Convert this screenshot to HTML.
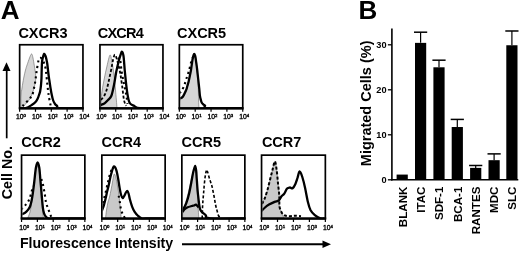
<!DOCTYPE html>
<html><head><meta charset="utf-8"><style>
html,body{margin:0;padding:0;background:#fff;width:520px;height:253px;overflow:hidden}
svg{display:block;will-change:transform}
text{font-family:"Liberation Sans", sans-serif;fill:#000}
</style></head><body>
<svg width="520" height="253" viewBox="0 0 520 253">
<clipPath id="cCXCR3"><rect x="20.5" y="45.6" width="61.6" height="63.4"/></clipPath>
<g clip-path="url(#cCXCR3)">
<path d="M20.8,108.2 C20.8,106.0 20.8,98.4 21.0,95.0 C21.2,91.6 21.6,90.8 22.0,88.0 C22.4,85.2 23.1,81.0 23.7,78.0 C24.3,75.0 24.9,72.2 25.5,70.0 C26.1,67.8 26.4,66.9 27.1,64.9 C27.8,62.9 28.8,59.8 29.5,58.0 C30.2,56.2 31.0,53.9 31.6,53.9 C32.2,53.9 32.6,56.2 33.0,58.0 C33.4,59.8 33.8,62.6 34.2,64.9 C34.6,67.2 35.0,69.8 35.3,72.0 C35.6,74.2 35.8,76.0 35.8,78.0 C35.8,80.0 35.4,82.0 35.0,84.0 C34.6,86.0 34.1,88.1 33.5,90.0 C32.9,91.9 32.2,93.8 31.5,95.5 C30.8,97.2 29.9,98.7 29.0,100.0 C28.1,101.3 27.2,102.1 26.0,103.5 C24.8,104.9 22.7,107.4 22.0,108.2 Z" fill="#d6d6d6" stroke="#666" stroke-width="0.6"/>
<path d="M22.5,106.0 C22.8,105.7 23.5,105.0 24.5,104.0 C25.5,103.0 27.3,101.3 28.4,100.1 C29.5,98.9 30.3,97.9 31.0,97.0 C31.7,96.1 31.9,96.4 32.4,94.9 C32.9,93.4 33.6,90.0 34.0,88.0 C34.4,86.0 34.7,85.2 35.0,83.2 C35.3,81.2 35.7,78.2 36.0,76.0 C36.3,73.8 36.4,72.6 36.8,70.1 C37.2,67.6 37.9,63.0 38.4,61.0 C38.9,59.0 39.4,58.3 40.0,58.0 C40.6,57.7 41.3,58.2 42.0,59.0 C42.7,59.8 43.4,61.6 44.0,63.0 C44.6,64.4 45.0,65.5 45.4,67.5 C45.8,69.5 46.1,72.4 46.4,75.0 C46.7,77.6 46.9,80.7 47.2,83.2 C47.5,85.7 47.7,87.8 48.0,90.0 C48.3,92.2 48.4,93.6 48.8,96.2 C49.2,98.8 50.3,103.9 50.6,105.4" fill="none" stroke="#000" stroke-width="2.1" stroke-dasharray="2.1,3.2"/>
<path d="M20.0,108.2 C21.0,108.2 23.7,108.8 25.8,108.2 C27.9,107.6 30.8,105.6 32.4,104.6 C34.0,103.6 34.6,103.0 35.5,102.0 C36.4,101.0 37.0,100.0 37.6,98.8 C38.2,97.6 38.6,96.3 39.0,95.0 C39.4,93.7 39.9,92.7 40.2,91.0 C40.5,89.3 40.8,87.2 41.0,85.0 C41.2,82.8 41.4,80.5 41.5,78.0 C41.6,75.5 41.6,72.6 41.7,70.0 C41.8,67.4 41.8,64.5 42.0,62.3 C42.2,60.1 42.6,58.4 43.0,57.0 C43.4,55.6 43.7,54.1 44.1,53.9 C44.5,53.7 45.1,55.0 45.5,56.0 C45.9,57.0 46.2,58.4 46.5,59.7 C46.8,61.0 47.0,62.0 47.3,64.0 C47.6,66.0 47.9,69.3 48.2,72.0 C48.5,74.7 48.9,77.3 49.3,80.0 C49.7,82.7 50.1,85.5 50.5,88.0 C50.9,90.5 51.3,92.9 51.8,95.0 C52.2,97.1 52.7,99.0 53.2,100.5 C53.7,102.0 54.4,103.1 55.0,104.0 C55.6,104.9 56.2,105.1 57.0,105.8 C57.8,106.5 55.7,107.8 60.0,108.2 C64.3,108.6 79.2,108.2 83.0,108.2" fill="none" stroke="#000" stroke-width="2.3" stroke-linejoin="round"/>
</g>
<rect x="19.65" y="44.75" width="63.30" height="63.80" fill="none" stroke="#000" stroke-width="1.7"/>
<rect x="18.80" y="107.10" width="65.00" height="2.3" fill="#000"/>
<line x1="19.65" y1="108.9" x2="19.65" y2="111.8" stroke="#000" stroke-width="1.2"/>
<text x="16.05" y="118.8" font-size="6.8" stroke="#000" stroke-width="0.35">10<tspan font-size="4.3" dy="-2.0">0</tspan></text>
<line x1="35.48" y1="108.9" x2="35.48" y2="111.8" stroke="#000" stroke-width="1.2"/>
<text x="31.88" y="118.8" font-size="6.8" stroke="#000" stroke-width="0.35">10<tspan font-size="4.3" dy="-2.0">1</tspan></text>
<line x1="51.30" y1="108.9" x2="51.30" y2="111.8" stroke="#000" stroke-width="1.2"/>
<text x="47.70" y="118.8" font-size="6.8" stroke="#000" stroke-width="0.35">10<tspan font-size="4.3" dy="-2.0">2</tspan></text>
<line x1="67.12" y1="108.9" x2="67.12" y2="111.8" stroke="#000" stroke-width="1.2"/>
<text x="63.52" y="118.8" font-size="6.8" stroke="#000" stroke-width="0.35">10<tspan font-size="4.3" dy="-2.0">3</tspan></text>
<line x1="82.95" y1="108.9" x2="82.95" y2="111.8" stroke="#000" stroke-width="1.2"/>
<text x="79.35" y="118.8" font-size="6.8" stroke="#000" stroke-width="0.35">10<tspan font-size="4.3" dy="-2.0">4</tspan></text>
<text x="18.4" y="38.3" font-size="14.5" font-weight="bold">CXCR3</text>
<clipPath id="cCXCR4"><rect x="100.8" y="45.6" width="61.3" height="63.4"/></clipPath>
<g clip-path="url(#cCXCR4)">
<path d="M101.0,108.2 C101.1,106.0 101.0,99.7 101.5,95.0 C102.0,90.3 103.1,84.8 104.0,80.0 C104.9,75.2 106.0,70.2 107.0,66.0 C108.0,61.8 109.2,55.7 110.0,55.0 C110.8,54.3 111.3,58.7 112.0,62.0 C112.7,65.3 113.4,70.3 114.0,75.0 C114.6,79.7 115.0,84.5 115.5,90.0 C116.0,95.5 116.8,105.2 117.0,108.2 Z" fill="#d6d6d6" stroke="#666" stroke-width="0.6"/>
<path d="M101.0,100.0 C101.8,98.7 104.4,96.7 106.0,92.0 C107.6,87.3 109.5,77.3 110.7,72.0 C111.9,66.7 112.3,62.9 113.0,60.0 C113.7,57.1 114.2,54.5 115.0,54.7 C115.8,55.0 116.7,58.6 117.5,61.5 C118.3,64.4 119.2,68.1 120.0,72.0 C120.8,75.9 121.3,80.3 122.0,85.0 C122.7,89.7 123.3,96.5 124.0,100.0 C124.7,103.5 125.7,105.0 126.0,106.0" fill="none" stroke="#000" stroke-width="1.8" stroke-dasharray="3,2"/>
<path d="M118.0,60.0 C118.3,59.8 119.4,57.0 120.0,59.0 C120.6,61.0 121.0,67.8 121.7,72.0 C122.4,76.2 123.2,80.0 124.0,84.0 C124.8,88.0 125.8,92.4 126.4,95.7 C127.0,99.0 127.3,102.6 127.5,104.0" fill="none" stroke="#000" stroke-width="2.1" stroke-dasharray="2.1,3.2"/>
<path d="M100.5,105.0 C101.1,104.8 103.0,104.4 104.3,103.6 C105.5,102.8 106.8,101.3 108.0,100.0 C109.2,98.7 110.4,98.2 111.4,95.7 C112.4,93.2 113.2,89.0 114.0,85.0 C114.8,81.0 115.5,75.8 116.2,72.0 C117.0,68.2 117.8,64.8 118.5,62.0 C119.2,59.2 119.9,56.7 120.5,55.0 C121.1,53.3 121.5,51.5 122.0,51.7 C122.5,51.9 123.0,52.6 123.5,56.0 C124.0,59.4 124.3,65.9 124.9,72.0 C125.5,78.1 126.4,87.4 127.2,92.5 C128.0,97.6 128.4,100.5 129.6,102.8 C130.8,105.0 132.6,105.1 134.3,106.0 C136.0,106.9 135.2,107.8 140.0,108.2 C144.8,108.6 159.2,108.2 163.0,108.2" fill="none" stroke="#000" stroke-width="2.3" stroke-linejoin="round"/>
</g>
<rect x="99.95" y="44.75" width="63.00" height="63.80" fill="none" stroke="#000" stroke-width="1.7"/>
<rect x="99.10" y="107.10" width="64.70" height="2.3" fill="#000"/>
<line x1="99.95" y1="108.9" x2="99.95" y2="111.8" stroke="#000" stroke-width="1.2"/>
<text x="96.35" y="118.8" font-size="6.8" stroke="#000" stroke-width="0.35">10<tspan font-size="4.3" dy="-2.0">0</tspan></text>
<line x1="115.70" y1="108.9" x2="115.70" y2="111.8" stroke="#000" stroke-width="1.2"/>
<text x="112.10" y="118.8" font-size="6.8" stroke="#000" stroke-width="0.35">10<tspan font-size="4.3" dy="-2.0">1</tspan></text>
<line x1="131.45" y1="108.9" x2="131.45" y2="111.8" stroke="#000" stroke-width="1.2"/>
<text x="127.85" y="118.8" font-size="6.8" stroke="#000" stroke-width="0.35">10<tspan font-size="4.3" dy="-2.0">2</tspan></text>
<line x1="147.20" y1="108.9" x2="147.20" y2="111.8" stroke="#000" stroke-width="1.2"/>
<text x="143.60" y="118.8" font-size="6.8" stroke="#000" stroke-width="0.35">10<tspan font-size="4.3" dy="-2.0">3</tspan></text>
<line x1="162.95" y1="108.9" x2="162.95" y2="111.8" stroke="#000" stroke-width="1.2"/>
<text x="159.35" y="118.8" font-size="6.8" stroke="#000" stroke-width="0.35">10<tspan font-size="4.3" dy="-2.0">4</tspan></text>
<text x="97.8" y="38.3" font-size="14.5" font-weight="bold" letter-spacing="-0.8">CXCR4</text>
<clipPath id="cCXCR5"><rect x="180.2" y="45.6" width="61.7" height="63.4"/></clipPath>
<g clip-path="url(#cCXCR5)">
<path d="M179.5,108.2 C179.6,106.8 179.4,101.8 180.0,100.0 C180.6,98.2 181.9,99.1 183.0,97.5 C184.1,95.9 185.4,93.1 186.3,90.5 C187.2,87.9 188.0,84.9 188.7,82.0 C189.4,79.1 190.0,76.0 190.5,73.0 C191.0,70.0 191.4,66.5 191.8,64.0 C192.2,61.5 192.6,59.3 193.0,58.0 C193.4,56.7 193.8,56.0 194.2,56.0 C194.6,56.0 195.0,56.3 195.4,58.0 C195.8,59.7 196.2,63.0 196.5,66.0 C196.8,69.0 197.2,72.7 197.5,76.0 C197.8,79.3 198.0,82.0 198.2,86.0 C198.4,90.0 198.5,96.3 198.6,100.0 C198.7,103.7 198.9,106.8 199.0,108.2 Z" fill="#d6d6d6" stroke="#666" stroke-width="0.6"/>
<path d="M179.5,93.0 C179.8,92.7 180.8,92.1 181.6,90.9 C182.3,89.7 183.2,88.0 184.0,86.0 C184.8,84.0 185.5,81.4 186.3,79.0 C187.1,76.6 187.9,74.6 188.7,71.8 C189.5,69.0 190.4,64.8 191.1,62.3 C191.8,59.8 192.7,57.9 193.0,57.0" fill="none" stroke="#000" stroke-width="2.1" stroke-dasharray="2.1,3.2"/>
<path d="M180.0,98.5 C180.5,98.2 182.0,97.8 182.8,96.8 C183.6,95.8 184.4,93.7 185.0,92.5 C185.6,91.3 185.9,90.9 186.3,89.7 C186.7,88.5 187.1,86.9 187.5,85.5 C187.9,84.1 188.3,83.0 188.7,81.3 C189.1,79.5 189.6,77.0 190.0,75.0 C190.4,73.0 190.8,71.4 191.1,69.4 C191.4,67.4 191.7,64.9 192.0,63.0 C192.3,61.1 192.5,59.3 192.8,58.0 C193.1,56.7 193.4,55.7 193.6,55.0 C193.8,54.3 194.0,54.0 194.2,54.0 C194.4,54.0 194.7,54.3 194.9,55.0 C195.1,55.7 195.4,56.7 195.6,58.0 C195.8,59.3 196.0,61.0 196.3,63.0 C196.6,65.0 196.9,67.3 197.2,70.0 C197.5,72.7 197.9,76.0 198.2,79.0 C198.5,82.0 198.9,85.2 199.2,88.0 C199.5,90.8 199.6,93.5 199.9,95.6 C200.2,97.7 200.7,99.3 201.0,100.5 C201.3,101.7 201.4,102.1 201.8,102.8 C202.2,103.5 203.0,104.1 203.5,104.6 C204.0,105.1 204.2,105.0 205.0,105.6 C205.8,106.2 201.7,107.8 208.0,108.2 C214.3,108.6 237.2,108.2 243.0,108.2" fill="none" stroke="#000" stroke-width="2.3" stroke-linejoin="round"/>
</g>
<rect x="179.35" y="44.75" width="63.40" height="63.80" fill="none" stroke="#000" stroke-width="1.7"/>
<rect x="178.50" y="107.10" width="65.10" height="2.3" fill="#000"/>
<line x1="179.35" y1="108.9" x2="179.35" y2="111.8" stroke="#000" stroke-width="1.2"/>
<text x="175.75" y="118.8" font-size="6.8" stroke="#000" stroke-width="0.35">10<tspan font-size="4.3" dy="-2.0">0</tspan></text>
<line x1="195.20" y1="108.9" x2="195.20" y2="111.8" stroke="#000" stroke-width="1.2"/>
<text x="191.60" y="118.8" font-size="6.8" stroke="#000" stroke-width="0.35">10<tspan font-size="4.3" dy="-2.0">1</tspan></text>
<line x1="211.05" y1="108.9" x2="211.05" y2="111.8" stroke="#000" stroke-width="1.2"/>
<text x="207.45" y="118.8" font-size="6.8" stroke="#000" stroke-width="0.35">10<tspan font-size="4.3" dy="-2.0">2</tspan></text>
<line x1="226.90" y1="108.9" x2="226.90" y2="111.8" stroke="#000" stroke-width="1.2"/>
<text x="223.30" y="118.8" font-size="6.8" stroke="#000" stroke-width="0.35">10<tspan font-size="4.3" dy="-2.0">3</tspan></text>
<line x1="242.75" y1="108.9" x2="242.75" y2="111.8" stroke="#000" stroke-width="1.2"/>
<text x="239.15" y="118.8" font-size="6.8" stroke="#000" stroke-width="0.35">10<tspan font-size="4.3" dy="-2.0">4</tspan></text>
<text x="177.0" y="38.3" font-size="14.5" font-weight="bold">CXCR5</text>
<clipPath id="cCCR2"><rect x="22.4" y="156.0" width="61.6" height="63.2"/></clipPath>
<g clip-path="url(#cCCR2)">
<path d="M27.5,218.4 C27.9,217.3 29.2,215.1 30.0,212.0 C30.8,208.9 31.3,204.7 32.0,200.0 C32.7,195.3 33.4,188.7 34.0,184.0 C34.6,179.3 34.9,175.0 35.5,172.0 C36.1,169.0 36.9,166.0 37.5,166.0 C38.1,166.0 38.7,169.0 39.2,172.0 C39.7,175.0 39.9,179.7 40.3,184.0 C40.6,188.3 41.0,194.0 41.3,198.0 C41.6,202.0 41.9,204.6 42.3,208.0 C42.7,211.4 43.3,216.7 43.5,218.4 Z" fill="#c9c9c9" stroke="#666" stroke-width="0.6"/>
<path d="M21.2,209.4 C21.8,208.8 23.7,207.1 24.9,205.7 C26.1,204.3 27.6,202.8 28.6,200.8 C29.6,198.9 30.3,196.5 31.0,194.0 C31.7,191.5 32.7,187.3 33.0,186.0" fill="none" stroke="#000" stroke-width="2.1" stroke-dasharray="2.1,3.2"/>
<path d="M41.3,179.0 C41.6,180.0 42.4,182.2 43.0,184.8 C43.6,187.4 44.3,191.6 44.8,194.5 C45.3,197.4 45.5,200.3 46.0,202.5 C46.5,204.7 47.1,205.9 47.8,207.8 C48.5,209.7 49.4,212.2 50.1,214.0 C50.8,215.8 51.7,217.7 52.0,218.4" fill="none" stroke="#000" stroke-width="2.1" stroke-dasharray="2.1,3.2"/>
<path d="M21.5,214.6 C22.3,214.1 24.7,213.1 26.1,211.8 C27.5,210.5 28.8,209.4 29.8,207.0 C30.8,204.6 31.5,201.3 32.2,197.2 C32.9,193.1 33.6,187.4 34.2,182.5 C34.8,177.6 35.3,171.2 35.9,167.8 C36.5,164.5 37.0,162.4 37.6,162.4 C38.2,162.4 38.8,164.9 39.3,167.8 C39.8,170.7 40.0,175.8 40.4,180.0 C40.8,184.2 41.2,188.9 41.5,192.7 C41.8,196.5 42.1,200.0 42.4,203.0 C42.7,206.0 42.9,208.4 43.3,210.5 C43.7,212.6 44.2,214.2 45.0,215.5 C45.8,216.8 46.3,217.9 48.0,218.4 C49.7,218.9 48.8,218.4 55.0,218.4 C61.2,218.4 80.0,218.4 85.0,218.4" fill="none" stroke="#000" stroke-width="2.3" stroke-linejoin="round"/>
</g>
<rect x="21.55" y="155.15" width="63.30" height="63.60" fill="none" stroke="#000" stroke-width="1.7"/>
<rect x="20.70" y="217.30" width="65.00" height="2.3" fill="#000"/>
<line x1="21.55" y1="219.1" x2="21.55" y2="222.0" stroke="#000" stroke-width="1.2"/>
<text x="19.15" y="229.9" font-size="6.8" stroke="#000" stroke-width="0.35">10<tspan font-size="4.3" dy="-2.0">0</tspan></text>
<line x1="37.38" y1="219.1" x2="37.38" y2="222.0" stroke="#000" stroke-width="1.2"/>
<text x="34.98" y="229.9" font-size="6.8" stroke="#000" stroke-width="0.35">10<tspan font-size="4.3" dy="-2.0">1</tspan></text>
<line x1="53.20" y1="219.1" x2="53.20" y2="222.0" stroke="#000" stroke-width="1.2"/>
<text x="50.80" y="229.9" font-size="6.8" stroke="#000" stroke-width="0.35">10<tspan font-size="4.3" dy="-2.0">2</tspan></text>
<line x1="69.03" y1="219.1" x2="69.03" y2="222.0" stroke="#000" stroke-width="1.2"/>
<text x="66.62" y="229.9" font-size="6.8" stroke="#000" stroke-width="0.35">10<tspan font-size="4.3" dy="-2.0">3</tspan></text>
<line x1="84.85" y1="219.1" x2="84.85" y2="222.0" stroke="#000" stroke-width="1.2"/>
<text x="82.45" y="229.9" font-size="6.8" stroke="#000" stroke-width="0.35">10<tspan font-size="4.3" dy="-2.0">4</tspan></text>
<text x="21.3" y="146.6" font-size="14.5" font-weight="bold">CCR2</text>
<clipPath id="cCCR4"><rect x="102.7" y="156.0" width="61.6" height="63.2"/></clipPath>
<g clip-path="url(#cCCR4)">
<path d="M105.5,218.4 C105.7,217.0 106.1,212.7 106.5,210.0 C106.9,207.3 107.5,204.2 108.0,202.0 C108.5,199.8 109.0,199.0 109.5,197.0 C110.0,195.0 110.5,192.5 111.0,190.0 C111.5,187.5 112.1,184.3 112.5,182.0 C112.9,179.7 113.2,177.3 113.5,176.0 C113.8,174.7 114.1,173.7 114.5,174.0 C114.9,174.3 115.5,176.0 116.0,178.0 C116.5,180.0 117.0,183.3 117.5,186.0 C118.0,188.7 118.4,191.2 118.8,194.0 C119.2,196.8 119.5,200.3 119.8,203.0 C120.1,205.7 120.3,207.4 120.5,210.0 C120.7,212.6 121.1,217.0 121.2,218.4 Z" fill="#c9c9c9" stroke="#666" stroke-width="0.6"/>
<path d="M101.5,208.0 C101.8,207.0 102.3,204.5 103.0,202.0 C103.7,199.5 104.7,196.3 105.5,193.0 C106.3,189.7 107.2,185.2 108.0,182.0 C108.8,178.8 109.3,176.2 110.0,174.0 C110.7,171.8 111.7,169.8 112.0,169.0" fill="none" stroke="#000" stroke-width="2.1" stroke-dasharray="2.1,3.2"/>
<path d="M118.7,195.8 C118.9,197.0 119.6,200.6 120.0,203.0 C120.4,205.4 120.6,208.1 121.1,210.0 C121.6,211.9 122.3,213.1 123.0,214.5 C123.7,215.9 124.7,217.8 125.0,218.4" fill="none" stroke="#000" stroke-width="2.1" stroke-dasharray="2.1,3.2"/>
<path d="M101.8,211.0 C102.1,210.2 103.1,207.9 103.7,205.9 C104.3,203.9 104.9,201.4 105.5,199.0 C106.1,196.6 106.6,193.9 107.1,191.6 C107.6,189.3 108.2,187.7 108.7,185.3 C109.2,182.9 109.8,179.7 110.3,177.4 C110.8,175.2 111.3,173.4 111.8,171.8 C112.2,170.2 112.6,168.9 113.0,168.0 C113.4,167.1 113.6,166.4 114.0,166.3 C114.4,166.2 114.9,166.7 115.3,167.5 C115.7,168.3 116.1,169.2 116.6,171.1 C117.1,173.0 117.7,176.1 118.2,179.0 C118.7,181.9 119.2,185.7 119.7,188.4 C120.2,191.1 120.6,193.4 121.1,195.0 C121.6,196.6 122.1,198.1 122.7,198.2 C123.3,198.3 124.0,196.5 124.5,195.5 C125.0,194.5 125.5,193.0 126.0,192.3 C126.5,191.6 127.0,190.8 127.4,191.1 C127.9,191.4 128.3,192.7 128.7,194.0 C129.1,195.3 129.2,196.8 129.8,199.0 C130.4,201.2 131.4,204.8 132.2,206.9 C133.0,209.0 133.6,210.2 134.5,211.6 C135.4,213.0 136.5,214.4 137.7,215.5 C138.9,216.6 140.2,217.9 141.6,218.4 C143.0,218.9 142.1,218.4 146.0,218.4 C149.9,218.4 161.8,218.4 165.0,218.4" fill="none" stroke="#000" stroke-width="2.3" stroke-linejoin="round"/>
</g>
<rect x="101.85" y="155.15" width="63.30" height="63.60" fill="none" stroke="#000" stroke-width="1.7"/>
<rect x="101.00" y="217.30" width="65.00" height="2.3" fill="#000"/>
<line x1="101.85" y1="219.1" x2="101.85" y2="222.0" stroke="#000" stroke-width="1.2"/>
<text x="99.45" y="229.9" font-size="6.8" stroke="#000" stroke-width="0.35">10<tspan font-size="4.3" dy="-2.0">0</tspan></text>
<line x1="117.67" y1="219.1" x2="117.67" y2="222.0" stroke="#000" stroke-width="1.2"/>
<text x="115.27" y="229.9" font-size="6.8" stroke="#000" stroke-width="0.35">10<tspan font-size="4.3" dy="-2.0">1</tspan></text>
<line x1="133.50" y1="219.1" x2="133.50" y2="222.0" stroke="#000" stroke-width="1.2"/>
<text x="131.10" y="229.9" font-size="6.8" stroke="#000" stroke-width="0.35">10<tspan font-size="4.3" dy="-2.0">2</tspan></text>
<line x1="149.32" y1="219.1" x2="149.32" y2="222.0" stroke="#000" stroke-width="1.2"/>
<text x="146.92" y="229.9" font-size="6.8" stroke="#000" stroke-width="0.35">10<tspan font-size="4.3" dy="-2.0">3</tspan></text>
<line x1="165.15" y1="219.1" x2="165.15" y2="222.0" stroke="#000" stroke-width="1.2"/>
<text x="162.75" y="229.9" font-size="6.8" stroke="#000" stroke-width="0.35">10<tspan font-size="4.3" dy="-2.0">4</tspan></text>
<text x="101.6" y="146.6" font-size="14.5" font-weight="bold">CCR4</text>
<clipPath id="cCCR5"><rect x="182.7" y="156.0" width="61.3" height="63.2"/></clipPath>
<g clip-path="url(#cCCR5)">
<path d="M182.5,218.4 C182.6,217.0 182.5,212.6 183.0,210.0 C183.5,207.4 184.7,205.7 185.5,203.0 C186.3,200.3 187.2,197.3 188.0,194.0 C188.8,190.7 189.8,186.3 190.5,183.0 C191.2,179.7 191.8,176.4 192.5,174.0 C193.2,171.6 194.2,168.2 194.8,168.5 C195.4,168.8 195.9,172.8 196.3,176.0 C196.7,179.2 196.8,184.0 197.0,188.0 C197.2,192.0 197.5,194.9 197.8,200.0 C198.1,205.1 198.6,215.3 198.8,218.4 Z" fill="#c9c9c9" stroke="#666" stroke-width="0.6"/>
<path d="M202.2,218.4 C202.2,216.7 202.4,211.1 202.5,208.0 C202.6,204.9 202.8,202.5 203.0,200.0 C203.2,197.5 203.4,195.2 203.6,193.0 C203.8,190.8 203.9,189.2 204.1,186.7 C204.3,184.2 204.7,180.4 205.0,178.0 C205.3,175.6 205.7,173.4 206.0,172.0 C206.3,170.6 206.4,169.8 206.7,169.8 C207.0,169.8 207.2,170.8 207.6,172.0 C208.0,173.2 208.5,175.3 209.0,177.0 C209.5,178.7 210.1,180.4 210.6,182.0 C211.1,183.6 211.6,184.5 212.1,186.7 C212.6,188.9 213.2,192.1 213.8,195.0 C214.4,197.9 214.9,201.4 215.4,204.0 C215.9,206.6 216.4,208.5 217.0,210.5 C217.6,212.5 218.0,214.7 218.7,216.0 C219.4,217.3 220.6,218.0 221.0,218.4" fill="none" stroke="#000" stroke-width="1.6" stroke-dasharray="3,2"/>
<path d="M182.5,212.0 C182.9,211.5 184.1,209.8 185.0,209.0 C185.9,208.2 186.6,207.8 187.7,207.3 C188.8,206.8 190.8,206.3 191.8,206.0 C192.9,205.7 193.3,205.7 194.0,205.5 C194.7,205.3 195.2,204.3 196.0,204.6 C196.8,204.9 198.2,206.9 198.7,207.3" fill="none" stroke="#000" stroke-width="2.3" stroke-linejoin="round"/>
<path d="M182.0,210.6 C182.2,210.3 182.8,209.9 183.5,208.7 C184.2,207.5 185.4,205.7 186.3,203.2 C187.2,200.7 188.2,197.4 189.1,193.5 C190.0,189.6 191.1,183.4 191.8,179.7 C192.5,175.9 192.9,173.3 193.5,171.0 C194.1,168.7 194.8,165.8 195.2,165.8 C195.6,165.8 195.9,168.7 196.2,171.0 C196.5,173.3 196.5,175.9 196.8,179.7 C197.1,183.4 197.4,188.9 197.9,193.5 C198.4,198.1 199.0,204.3 199.6,207.3 C200.2,210.3 200.5,210.2 201.5,211.5 C202.5,212.8 204.3,213.9 205.7,215.1 C207.1,216.2 203.4,217.8 210.0,218.4 C216.6,219.0 239.2,218.4 245.0,218.4" fill="none" stroke="#000" stroke-width="2.3" stroke-linejoin="round"/>
</g>
<rect x="181.85" y="155.15" width="63.00" height="63.60" fill="none" stroke="#000" stroke-width="1.7"/>
<rect x="181.00" y="217.30" width="64.70" height="2.3" fill="#000"/>
<line x1="181.85" y1="219.1" x2="181.85" y2="222.0" stroke="#000" stroke-width="1.2"/>
<text x="179.45" y="229.9" font-size="6.8" stroke="#000" stroke-width="0.35">10<tspan font-size="4.3" dy="-2.0">0</tspan></text>
<line x1="197.60" y1="219.1" x2="197.60" y2="222.0" stroke="#000" stroke-width="1.2"/>
<text x="195.20" y="229.9" font-size="6.8" stroke="#000" stroke-width="0.35">10<tspan font-size="4.3" dy="-2.0">1</tspan></text>
<line x1="213.35" y1="219.1" x2="213.35" y2="222.0" stroke="#000" stroke-width="1.2"/>
<text x="210.95" y="229.9" font-size="6.8" stroke="#000" stroke-width="0.35">10<tspan font-size="4.3" dy="-2.0">2</tspan></text>
<line x1="229.10" y1="219.1" x2="229.10" y2="222.0" stroke="#000" stroke-width="1.2"/>
<text x="226.70" y="229.9" font-size="6.8" stroke="#000" stroke-width="0.35">10<tspan font-size="4.3" dy="-2.0">3</tspan></text>
<line x1="244.85" y1="219.1" x2="244.85" y2="222.0" stroke="#000" stroke-width="1.2"/>
<text x="242.45" y="229.9" font-size="6.8" stroke="#000" stroke-width="0.35">10<tspan font-size="4.3" dy="-2.0">4</tspan></text>
<text x="181.6" y="146.6" font-size="14.5" font-weight="bold">CCR5</text>
<clipPath id="cCCR7"><rect x="262.4" y="156.0" width="62.1" height="63.2"/></clipPath>
<g clip-path="url(#cCCR7)">
<path d="M261.5,218.4 C261.6,216.0 261.5,207.2 262.0,203.9 C262.5,200.6 263.7,200.8 264.6,198.7 C265.5,196.5 266.3,194.0 267.2,191.0 C268.1,188.0 268.9,184.1 269.8,180.7 C270.7,177.3 271.5,173.6 272.4,170.4 C273.2,167.2 274.2,161.4 274.9,161.4 C275.6,161.4 276.2,166.8 276.7,170.4 C277.2,174.1 277.6,179.0 278.0,183.3 C278.4,187.6 279.1,192.3 279.3,196.2 C279.5,200.1 278.9,203.7 279.3,206.5 C279.7,209.3 281.1,210.9 281.9,212.9 C282.7,214.9 283.6,217.5 284.0,218.4 Z" fill="#c9c9c9" stroke="#666" stroke-width="0.6"/>
<path d="M262.0,203.9 C262.4,203.0 263.7,200.8 264.6,198.7 C265.5,196.5 266.3,194.0 267.2,191.0 C268.1,188.0 268.9,184.1 269.8,180.7 C270.7,177.3 271.5,173.6 272.4,170.4 C273.2,167.2 274.2,161.4 274.9,161.4 C275.6,161.4 276.2,166.8 276.7,170.4 C277.2,174.1 277.6,179.0 278.0,183.3 C278.4,187.6 279.1,192.3 279.3,196.2 C279.6,200.1 279.1,203.7 279.5,206.5 C279.9,209.3 281.0,211.4 281.9,212.9 C282.8,214.4 283.6,214.9 285.0,215.5 C286.4,216.1 288.3,216.1 290.0,216.2 C291.7,216.2 293.2,215.8 295.0,215.8 C296.8,215.8 300.0,216.1 301.0,216.2" fill="none" stroke="#000" stroke-width="2.0" stroke-dasharray="3,2"/>
<path d="M261.5,211.0 C262.1,210.4 263.8,208.6 265.0,207.5 C266.2,206.4 267.4,205.5 269.0,204.6 C270.6,203.7 273.0,202.6 274.6,201.9 C276.2,201.2 277.7,201.4 278.8,200.5 C279.9,199.6 280.6,197.5 281.5,196.3 C282.4,195.2 283.4,194.9 284.3,193.6 C285.2,192.3 286.2,189.5 287.1,188.5 C288.0,187.5 289.0,187.6 289.9,187.5 C290.8,187.4 291.7,188.8 292.6,188.2 C293.5,187.6 294.6,185.6 295.4,183.9 C296.2,182.2 296.8,180.1 297.5,178.0 C298.2,175.9 298.8,171.6 299.6,171.4 C300.4,171.2 301.4,174.2 302.3,177.0 C303.2,179.8 304.2,183.8 305.1,188.0 C306.0,192.2 307.0,198.2 307.9,201.9 C308.8,205.6 309.5,208.0 310.6,210.2 C311.8,212.4 313.2,213.8 314.8,215.2 C316.4,216.6 318.6,217.9 320.3,218.4 C322.0,218.9 324.2,218.4 325.0,218.4" fill="none" stroke="#000" stroke-width="2.3" stroke-linejoin="round"/>
</g>
<rect x="261.55" y="155.15" width="63.80" height="63.60" fill="none" stroke="#000" stroke-width="1.7"/>
<rect x="260.70" y="217.30" width="65.50" height="2.3" fill="#000"/>
<line x1="261.55" y1="219.1" x2="261.55" y2="222.0" stroke="#000" stroke-width="1.2"/>
<text x="259.15" y="229.9" font-size="6.8" stroke="#000" stroke-width="0.35">10<tspan font-size="4.3" dy="-2.0">0</tspan></text>
<line x1="277.50" y1="219.1" x2="277.50" y2="222.0" stroke="#000" stroke-width="1.2"/>
<text x="275.10" y="229.9" font-size="6.8" stroke="#000" stroke-width="0.35">10<tspan font-size="4.3" dy="-2.0">1</tspan></text>
<line x1="293.45" y1="219.1" x2="293.45" y2="222.0" stroke="#000" stroke-width="1.2"/>
<text x="291.05" y="229.9" font-size="6.8" stroke="#000" stroke-width="0.35">10<tspan font-size="4.3" dy="-2.0">2</tspan></text>
<line x1="309.40" y1="219.1" x2="309.40" y2="222.0" stroke="#000" stroke-width="1.2"/>
<text x="307.00" y="229.9" font-size="6.8" stroke="#000" stroke-width="0.35">10<tspan font-size="4.3" dy="-2.0">3</tspan></text>
<line x1="325.35" y1="219.1" x2="325.35" y2="222.0" stroke="#000" stroke-width="1.2"/>
<text x="322.95" y="229.9" font-size="6.8" stroke="#000" stroke-width="0.35">10<tspan font-size="4.3" dy="-2.0">4</tspan></text>
<text x="261.9" y="146.6" font-size="14.5" font-weight="bold">CCR7</text>
<text x="0.7" y="19" font-size="26" font-weight="bold">A</text>
<text x="358.6" y="19" font-size="26" font-weight="bold">B</text>
<text x="19.9" y="248.4" font-size="14.15" font-weight="bold">Fluorescence Intensity</text>
<text transform="translate(12,199.3) rotate(-90)" font-size="14.3" font-weight="bold">Cell No.</text>
<line x1="6.7" y1="68" x2="6.7" y2="138.3" stroke="#000" stroke-width="1.7"/>
<path d="M6.5,62.2 L10.5,71 L2.5,71 Z" fill="#000"/>
<line x1="182" y1="244.2" x2="325" y2="244.2" stroke="#000" stroke-width="1.9"/>
<path d="M331,244.3 L322.5,240.4 L322.5,248 Z" fill="#000"/>
<line x1="391.9" y1="28.4" x2="391.9" y2="180.55" stroke="#000" stroke-width="1.6"/>
<line x1="391.09999999999997" y1="179.8" x2="518.3" y2="179.8" stroke="#000" stroke-width="1.6"/>
<line x1="387.9" y1="179.80" x2="391.9" y2="179.80" stroke="#000" stroke-width="1.3"/>
<text x="386.6" y="182.80" font-size="9.2" font-weight="bold" text-anchor="end">0</text>
<line x1="387.9" y1="134.80" x2="391.9" y2="134.80" stroke="#000" stroke-width="1.3"/>
<text x="386.6" y="137.80" font-size="9.2" font-weight="bold" text-anchor="end">10</text>
<line x1="387.9" y1="89.80" x2="391.9" y2="89.80" stroke="#000" stroke-width="1.3"/>
<text x="386.6" y="92.80" font-size="9.2" font-weight="bold" text-anchor="end">20</text>
<line x1="387.9" y1="44.80" x2="391.9" y2="44.80" stroke="#000" stroke-width="1.3"/>
<text x="386.6" y="47.80" font-size="9.2" font-weight="bold" text-anchor="end">30</text>
<text transform="translate(371.2,166.2) rotate(-90)" font-size="14.5" font-weight="bold">Migrated Cells (%)</text>
<rect x="396.60" y="174.58" width="11.2" height="5.22" fill="#000"/>
<text transform="translate(406.50,186.6) rotate(-90)" font-size="11.6" font-weight="bold" text-anchor="end">BLANK</text>
<line x1="420.60" y1="32.20" x2="420.60" y2="42.87" stroke="#000" stroke-width="1.2"/>
<line x1="414.00" y1="32.20" x2="427.20" y2="32.20" stroke="#000" stroke-width="1.5"/>
<rect x="415.00" y="42.87" width="11.2" height="136.94" fill="#000"/>
<text transform="translate(424.90,186.6) rotate(-90)" font-size="11.6" font-weight="bold" text-anchor="end">ITAC</text>
<line x1="439.00" y1="60.19" x2="439.00" y2="67.30" stroke="#000" stroke-width="1.2"/>
<line x1="432.40" y1="60.19" x2="445.60" y2="60.19" stroke="#000" stroke-width="1.5"/>
<rect x="433.40" y="67.30" width="11.2" height="112.50" fill="#000"/>
<text transform="translate(443.30,186.6) rotate(-90)" font-size="11.6" font-weight="bold" text-anchor="end">SDF-1</text>
<line x1="457.30" y1="119.41" x2="457.30" y2="127.02" stroke="#000" stroke-width="1.2"/>
<line x1="450.70" y1="119.41" x2="463.90" y2="119.41" stroke="#000" stroke-width="1.5"/>
<rect x="451.70" y="127.02" width="11.2" height="52.78" fill="#000"/>
<text transform="translate(461.60,186.6) rotate(-90)" font-size="11.6" font-weight="bold" text-anchor="end">BCA-1</text>
<line x1="475.70" y1="165.49" x2="475.70" y2="167.88" stroke="#000" stroke-width="1.2"/>
<line x1="469.10" y1="165.49" x2="482.30" y2="165.49" stroke="#000" stroke-width="1.5"/>
<rect x="470.10" y="167.88" width="11.2" height="11.93" fill="#000"/>
<text transform="translate(480.00,186.6) rotate(-90)" font-size="11.6" font-weight="bold" text-anchor="end">RANTES</text>
<line x1="494.10" y1="153.88" x2="494.10" y2="160.18" stroke="#000" stroke-width="1.2"/>
<line x1="487.50" y1="153.88" x2="500.70" y2="153.88" stroke="#000" stroke-width="1.5"/>
<rect x="488.50" y="160.18" width="11.2" height="19.62" fill="#000"/>
<text transform="translate(498.40,186.6) rotate(-90)" font-size="11.6" font-weight="bold" text-anchor="end">MDC</text>
<line x1="511.90" y1="30.99" x2="511.90" y2="45.25" stroke="#000" stroke-width="1.2"/>
<line x1="505.30" y1="30.99" x2="518.50" y2="30.99" stroke="#000" stroke-width="1.5"/>
<rect x="506.30" y="45.25" width="11.2" height="134.55" fill="#000"/>
<text transform="translate(516.20,186.6) rotate(-90)" font-size="11.6" font-weight="bold" text-anchor="end">SLC</text>
</svg>
</body></html>
